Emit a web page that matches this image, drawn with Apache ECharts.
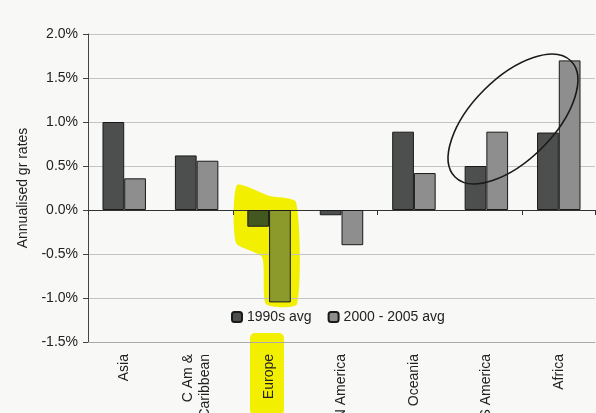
<!DOCTYPE html>
<html><head><meta charset="utf-8">
<script src="https://cdn.jsdelivr.net/npm/echarts@6/dist/echarts.min.js"></script>
<style>html,body{margin:0;padding:0;background:#f8f8f6;}#c{width:596px;height:413px;}</style>
</head><body><div id="c"></div>
<script>
const categories = ['Asia', 'C Am &\nCaribbean', 'Europe', 'N America', 'Oceania', 'S America', 'Africa'];
const avg1990s = [1.0, 0.62, -0.19, -0.06, 0.89, 0.50, 0.88];
const avg2000_2005 = [0.36, 0.56, -1.05, -0.40, 0.42, 0.89, 1.70];
const yTicks = [-1.5, -1.0, -0.5, 0.0, 0.5, 1.0, 1.5, 2.0];

const highlightIdx = 2;
function styled(arr, hi) {
  return arr.map((v, i) => i === highlightIdx ? {value: v, itemStyle: {color: hi}} : v);
}
const font = '"Liberation Sans", Arial, sans-serif';
const chart = echarts.init(document.getElementById('c'));
chart.setOption({
  backgroundColor: '#f8f8f6',
  animation: false,
  grid: {left: 88, top: 34, right: 1, bottom: 71, containLabel: false, outerBoundsMode: 'none'},
  legend: {
    left: 226, top: 305, itemWidth: 10, itemHeight: 10, itemGap: 16, itemTextGap: 5,
    textStyle: {fontFamily: font, fontSize: 14, color: '#222'},
    data: ['1990s avg', '2000 - 2005 avg']
  },
  xAxis: [
    {type: 'category', data: categories, position: 'bottom',
     axisLine: {onZero: true, lineStyle: {color: '#333', width: 1}},
     axisTick: {show: true, length: 5, lineStyle: {color: '#333'}},
     axisLabel: {show: false}, splitLine: {show: false}},
    {type: 'category', data: categories, position: 'bottom',
     axisLine: {onZero: false, show: true, lineStyle: {color: '#aaa'}},
     axisTick: {show: false},
     axisLabel: {show: true, rotate: 90, margin: 12, fontFamily: font, fontSize: 14, color: '#222', lineHeight: 17},
     splitLine: {show: false}}
  ],
  yAxis: {
    type: 'value', min: yTicks[0], max: yTicks[yTicks.length - 1], interval: 0.5,
    name: 'Annualised gr rates', nameLocation: 'middle', nameGap: 52,
    nameTextStyle: {fontFamily: font, fontSize: 14, color: '#222'},
    axisLine: {show: true, lineStyle: {color: '#444'}},
    axisTick: {show: true, length: 5, lineStyle: {color: '#444'}},
    axisLabel: {fontFamily: font, fontSize: 14, color: '#222', margin: 10,
      formatter: v => v.toFixed(1) + '%'},
    splitLine: {lineStyle: {color: '#c4c4c4', width: 1}}
  },
  series: [
    {name: '1990s avg', type: 'bar', xAxisIndex: 0, barGap: '0%', barCategoryGap: '40%',
     data: styled(avg1990s, '#42581f'),
     itemStyle: {color: '#4d4f4f', borderColor: '#1a1a1a', borderWidth: 1}, z: 3},
    {name: '2000 - 2005 avg', type: 'bar', xAxisIndex: 0, barGap: '0%', barCategoryGap: '40%',
     data: styled(avg2000_2005, '#8c9a2c'),
     itemStyle: {color: '#8e8e8e', borderColor: '#1a1a1a', borderWidth: 1}, z: 3}
  ],
  graphic: [
    {type: 'polygon', z: 0, silent: true,
     shape: {points: [[237,185],[270,196],[296,202],[297,304],[266,304],[262,257],[236,243]], smooth: 0.2},
     style: {fill: '#f2f000'}},
    {type: 'rect', z: 0, silent: true, shape: {x: 250, y: 333, width: 34, height: 82, r: 5},
     style: {fill: '#f2f000'}},
    {type: 'ellipse', z: 100, silent: true, x: 513, y: 119, rotation: Math.PI / 4,
     shape: {cx: 0, cy: 0, rx: 82, ry: 41},
     style: {fill: 'none', stroke: '#1a1a1a', lineWidth: 1.6}}
  ]
});
</script></body></html>
